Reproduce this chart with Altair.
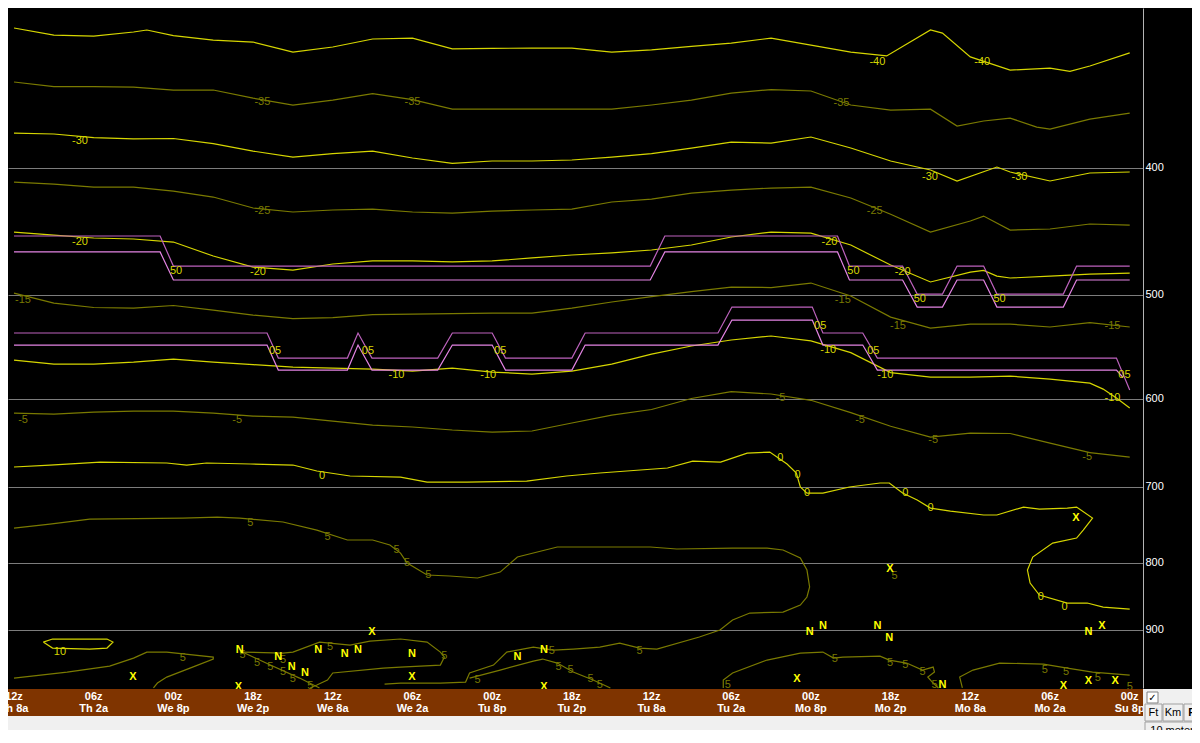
import altair as alt
import pandas as pd

# ---------------- axes ----------------
HOURS = [0, 6, 12, 18, 24, 30, 36, 42, 48, 54, 60, 66, 72, 78, 84]
Z_LABELS = ["12z", "06z", "00z", "18z", "12z", "06z", "00z", "18z", "12z", "06z", "00z", "18z", "12z", "06z", "00z"]
LOCAL_LABELS = ["Th 8a", "Th 2a", "We 8p", "We 2p", "We 8a", "We 2a", "Tu 8p", "Tu 2p",
                "Tu 8a", "Tu 2a", "Mo 8p", "Mo 2p", "Mo 8a", "Mo 2a", "Su 8p"]
PRESSURE_TICKS = [400, 500, 600, 700, 800, 900]

G3 = [0, 3, 6, 9, 12, 15, 18, 21, 24, 27, 30, 33, 36, 39, 42, 45, 48, 51, 54, 57, 60, 63, 66, 69, 72, 75, 78, 81, 84]

# ---------------- isotherms (hours, hPa) ----------------
T_M40_H = [0, 3, 6, 9, 10, 12, 15, 18, 21, 24, 27, 30, 33, 36, 39, 42, 45, 48, 51, 54, 57, 60, 63, 65.7, 69, 69.9, 72, 75, 78, 79.5, 81, 84]
T_M40_P = [313.0, 316.9, 317.5, 315.2, 314.1, 317.2, 319.7, 320.8, 326.5, 323.6, 319.1, 318.6, 324.7, 324.4, 324.2,
           324.2, 326.5, 325.3, 323.3, 321.4, 318.6, 322.5, 326.5, 328.7, 314.1, 315.8, 329.3, 337.0, 335.8, 337.7, 334.6, 327.0]

T_M35_H = [0, 3, 6, 9, 12, 15, 18, 21, 24, 27, 30, 33, 36, 39, 42, 45, 48, 51, 54, 57, 60, 63, 66, 69, 71, 73, 75, 77, 78, 81, 84]
T_M35_P = [344.1, 346.9, 346.9, 347.2, 349.0, 349.0, 354.0, 358.3, 355.2, 351.2, 354.9, 360.9, 360.9, 360.9, 360.9,
           360.9, 358.3, 355.2, 350.9, 348.7, 349.6, 358.3, 361.5, 360.9, 371.8, 368.5, 366.6, 372.5, 373.8, 367.3, 363.4]

T_M30_H = [0, 3, 6, 9, 12, 15, 18, 21, 24, 27, 30, 33, 36, 39, 42, 45, 48, 51, 54, 57, 60, 63, 66, 69, 71, 74, 75, 78, 81, 84]
T_M30_P = [376.4, 377.0, 379.4, 380.3, 380.0, 383.4, 388.5, 392.6, 390.2, 388.5, 393.2, 397.0, 395.3, 395.3, 394.6,
           392.6, 390.2, 386.4, 382.4, 383.1, 379.0, 386.4, 395.3, 401.6, 409.4, 399.5, 403.0, 409.4, 403.7, 403.0]

T_M25_H = [0, 3, 6, 9, 12, 15, 18, 21, 24, 27, 30, 33, 36, 39, 42, 45, 48, 51, 54, 57, 60, 63, 66, 69, 72, 73, 75, 78, 81, 84]
T_M25_P = [410.2, 411.6, 413.8, 413.8, 416.7, 421.1, 429.3, 432.3, 430.8, 430.1, 432.3, 433.1, 431.6, 430.8, 430.1,
           424.8, 422.6, 418.2, 416.0, 414.5, 413.8, 421.8, 434.0, 447.8, 439.2, 435.4, 446.2, 445.4, 441.5, 442.3]

T_M20_H = [0, 3, 6, 9, 12, 15, 18, 21, 24, 27, 30, 33, 36, 39, 42, 45, 48, 51, 54, 57, 60, 63, 66, 69, 72, 73, 74, 75, 78, 81, 84]
T_M20_P = [447.8, 450.2, 452.5, 453.3, 455.7, 467.0, 476.2, 478.7, 473.6, 471.1, 471.1, 471.9, 471.1, 468.6, 466.2,
           464.5, 462.1, 458.1, 451.7, 447.8, 448.6, 458.1, 474.5, 488.8, 480.4, 479.0, 483.8, 485.4, 483.8, 482.1, 481.2]

T_M15_H = G3
T_M15_P = [498.4, 507.2, 511.2, 511.7, 509.4, 513.5, 518.0, 521.2, 520.3, 517.6, 517.1, 516.7, 516.2, 516.2, 511.7,
           506.3, 501.5, 497.1, 493.2, 493.6, 489.7, 501.0, 519.9, 530.0, 526.3, 526.3, 529.0, 524.9, 529.0]

T_M10_H = [0, 3, 6, 9, 12, 15, 18, 21, 24, 27, 30, 33, 36, 39, 42, 45, 48, 51, 54, 57, 60, 63, 66, 69, 72, 75, 78, 81, 82, 83, 84]
T_M10_P = [560.6, 564.6, 564.6, 562.6, 559.6, 562.6, 565.1, 567.5, 568.5, 569.5, 571.5, 568.5, 572.5, 574.5, 571.5,
           564.6, 554.7, 546.9, 541.2, 537.4, 542.1, 553.3, 573.1, 577.6, 577.6, 576.6, 579.6, 583.7, 589.9, 599.2, 609.9]

T_M5_H = G3
T_M5_P = [615.2, 616.3, 614.2, 613.1, 613.1, 615.2, 618.5, 619.6, 623.9, 628.3, 630.5, 633.8, 636.1, 634.9, 626.1,
          617.4, 611.4, 599.7, 592.6, 595.0, 601.6, 614.8, 629.6, 641.7, 637.2, 637.7, 648.5, 659.4, 664.6]

T_0_H = [0, 2.7, 6.5, 11.5, 13.0, 14.5, 17.8, 21.0, 22.8, 25.3, 29.1, 31.1, 34.1, 38.6, 41.6, 44.1, 49.2, 51.1, 53.2, 55.2,
         56.9, 58.2, 58.9, 59.2, 59.7, 60.9, 62.9, 65.2, 65.9, 66.9, 68.0, 69.0, 70.5, 73.0, 74.0, 76.0, 77.2, 79.3, 80.0, 81.2,
         80.5, 80.0, 78.2, 76.7, 76.3, 76.5, 77.2, 79.3, 80.8, 82.0, 84.0]
T_0_P = [676.3, 674.0, 670.5, 671.6, 674.0, 671.6, 672.8, 674.0, 681.1, 687.1, 688.4, 694.4, 694.4, 693.2, 687.1, 683.5,
         677.5, 669.3, 670.5, 660.0, 658.8, 672.8, 683.5, 700.5, 708.0, 708.0, 700.5, 695.6, 695.6, 708.0, 716.7, 726.9,
         730.7, 735.8, 735.8, 725.6, 728.1, 726.9, 725.6, 739.7, 755.5, 766.1, 772.9, 792.1, 810.4, 829.1, 846.7, 858.7,
         858.7, 864.8, 867.8]

T_5A_H = [0.0, 2.7, 5.7, 12.7, 15.3, 17.0, 20.25, 22.8, 25.1, 27.0, 28.3, 29.1, 29.6, 31.1, 32.8, 34.9, 36.6, 37.9, 40.9,
          45.4, 47.9, 49.9, 54.1, 56.7, 57.9, 59.2, 59.7, 59.9, 59.7, 59.2, 57.9, 55.4, 54.1, 53.15, 51.6, 48.4, 47.1,
          45.6, 44.1, 42.1, 40.6, 39.1, 37.1, 36.1, 34.3, 34.0, 32.1, 29.1, 27.9]
T_5A_P = [752.9, 747.6, 741.0, 739.7, 738.4, 739.7, 744.9, 755.5, 768.8, 768.8, 775.6, 786.6, 800.5, 817.5, 818.9, 821.8,
          813.3, 792.1, 778.3, 778.3, 778.3, 781.0, 779.7, 779.7, 782.4, 793.5, 810.4, 834.9, 849.7, 861.7, 872.4, 873.9,
          884.7, 900.4, 911.5, 930.9, 929.3, 921.2, 927.7, 930.9, 932.6, 927.7, 935.9, 957.5, 970.9, 986.5, 988.2, 988.2, 989.9]

T_10_H = [2.2, 2.9, 7.0, 7.45, 7.0, 5.7, 2.9, 2.2]
T_10_P = [919.6, 914.7, 914.7, 919.6, 929.3, 930.9, 929.3, 919.6]

T_5B_H = [0.0, 4.0, 7.2, 9.0, 10.0, 11.5, 15.0, 15.0, 13.25, 11.5, 10.8, 10.5]
T_5B_P = [979.6, 969.3, 959.2, 945.8, 935.9, 935.9, 944.2, 947.4, 962.6, 977.9, 988.2, 996.7]

T_5C_H = [17.0, 20.25, 21.0, 23.0, 25.3, 26.8, 29.1, 31.1, 32.1, 32.4, 32.1, 29.1, 27.8, 24.0, 23.6, 22.8, 22.3]
T_5C_P = [935.9, 937.5, 935.9, 919.6, 924.4, 918.0, 914.7, 919.6, 935.9, 944.2, 957.5, 960.9, 962.6, 970.9, 983.0, 991.7, 996.7]

T_5D_H = [17.2, 19.3, 21.5, 23.0]
T_5D_P = [935.9, 957.5, 979.6, 996.7]

T_5E_H = [34.3, 36.6, 39.1, 39.8, 40.9, 42.1, 43.6, 44.9]
T_5E_P = [979.6, 965.9, 950.8, 947.4, 954.1, 969.3, 983.0, 996.7]

T_5F_H = [53.4, 53.4, 54.1, 56.7, 59.2, 60.9, 61.7, 62.4, 65.2, 65.9, 67.2, 68.4, 69.2, 69.3, 68.8, 69.0, 69.2, 69.6]
T_5F_P = [996.7, 983.0, 970.9, 949.1, 937.5, 935.9, 945.8, 944.2, 942.5, 949.1, 954.1, 965.9, 960.9, 969.3, 977.9, 983.0, 988.2, 996.7]

T_5G_H = [71.4, 71.2, 72.2, 74.2, 77.5, 79.3, 81.2, 84.0]
T_5G_P = [996.7, 977.9, 965.9, 954.1, 955.8, 962.6, 969.3, 974.5]

# ---------------- magenta contours ----------------
M50_H = [0, 11.0, 12.0, 47.9, 49.0, 62.0, 62.9, 66.9, 68.0, 69.9, 71.0, 73.0, 74.0, 79.0, 80.0, 84.0]
M50A_P = [450.9, 450.9, 475.3, 475.3, 450.9, 450.9, 475.3, 475.3, 499.3, 499.3, 475.3, 475.3, 499.3, 499.3, 475.3, 475.3]
M50B_P = [463.7, 463.7, 487.1, 487.1, 463.7, 463.7, 487.1, 487.1, 510.8, 510.8, 487.1, 487.1, 510.8, 510.8, 487.1, 487.1]
M05A_H = [0, 19.05, 19.9, 25.1, 25.9, 26.95, 31.9, 33.0, 36.0, 37.0, 42.0, 43.0, 53.0, 54.05, 60.1, 60.9, 63.9, 65.0, 83.0, 84.0]
M05A_P = [534.6, 534.6, 558.6, 558.6, 534.6, 558.6, 558.6, 534.6, 534.6, 558.6, 558.6, 534.6, 534.6, 510.8, 510.8,
          534.6, 534.6, 558.6, 558.6, 590.9]
M05B_H = [0, 19.05, 19.9, 25.1, 25.9, 26.95, 31.9, 33.0, 36.0, 37.0, 42.0, 43.0, 53.0, 54.05, 60.1, 60.9, 63.9, 65.0, 83.0, 83.5]
M05B_P = [546.0, 546.0, 570.5, 570.5, 546.0, 570.5, 570.5, 546.0, 546.0, 570.5, 570.5, 546.0, 546.0, 522.6, 522.6,
          546.0, 546.0, 570.5, 570.5, 578.0]

# ---------------- contour labels ----------------
BRIGHT_TXT = ["-40", "-40", "-30", "-30", "-30", "-20", "-20", "-20", "-20", "-10", "-10", "-10", "-10", "-10",
              "0", "0", "0", "0", "0", "0", "0", "0", "10"]
BRIGHT_H = [65.0, 72.9, 4.97, 68.96, 75.7, 4.97, 18.37, 61.4, 66.9, 28.8, 35.7, 61.3, 65.6, 82.7,
            23.2, 57.7, 59.0, 59.7, 67.1, 69.0, 77.3, 79.1, 3.46]
BRIGHT_P = [332.3, 332.3, 381.7, 406.6, 406.6, 455.7, 480.4, 455.7, 480.4, 575.5, 575.5, 550.8, 575.5, 599.2,
            687.1, 665.8, 685.9, 708.0, 708.0, 726.9, 849.7, 864.8, 935.9]

DIM_TXT = ["-35", "-35", "-35", "-25", "-25", "-15", "-15", "-15", "-15", "-5", "-5", "-5", "-5", "-5", "-5"] + ["5"] * 33
DIM_H = [18.7, 30.0, 62.3, 18.7, 64.8, 0.68, 62.4, 66.55, 82.7, 0.68, 16.8, 57.7, 63.7, 69.2, 80.8,
         17.8, 23.6, 28.8, 29.6, 31.2, 66.3, 12.7, 17.2, 18.3, 19.3, 20.25, 21.0, 22.3, 20.25, 23.8, 32.4, 34.9,
         40.5, 41.0, 41.9, 43.4, 44.1, 47.1, 53.75, 61.8, 65.95, 67.1, 68.4, 69.3, 77.6, 79.2, 81.6, 84.0]
DIM_P = [356.4, 356.4, 357.1, 431.6, 431.6, 504.5, 504.5, 528.1, 528.1, 622.8, 622.8, 599.2, 622.8, 645.1, 664.6,
         746.3, 764.8, 782.4, 800.5, 817.5, 818.9, 945.8, 940.8, 954.1, 960.9, 969.3, 981.3, 993.4, 949.1, 927.7, 942.5,
         983.0, 934.2, 960.9, 965.9, 981.3, 991.7, 934.2, 991.7, 947.4, 954.1, 957.5, 969.3, 991.7, 965.9, 969.3,
         979.6, 995.2]

MAG_TXT = ["50", "50", "50", "50", "05", "05", "05", "05", "05", "05"]
MAG_H = [12.2, 63.2, 68.2, 74.2, 19.65, 26.65, 36.6, 60.7, 64.7, 83.6]
MAG_P = [479.5, 479.5, 503.6, 503.6, 551.8, 551.8, 551.8, 528.1, 551.8, 575.5]

N_H = [17.0, 19.9, 20.9, 21.9, 22.9, 24.9, 25.9, 29.96, 37.9, 39.9, 59.9, 60.9, 65.0, 65.9, 80.9, 69.9]
N_P = [932.6, 944.2, 960.9, 970.9, 932.6, 939.2, 932.6, 939.2, 944.2, 932.6, 903.6, 894.1, 894.1, 913.1, 903.6, 991.7]
X_H = [8.96, 16.9, 26.95, 29.96, 39.9, 58.95, 65.95, 79.95, 81.9, 79.0, 80.9, 82.9]
X_P = [977.9, 995.2, 903.6, 977.9, 995.2, 981.3, 809.0, 739.7, 894.1, 993.4, 984.7, 984.7]

# ---------------- build tables ----------------
rows = []


def add(name, kind, hs, ps):
    for i, (h, p) in enumerate(zip(hs, ps)):
        rows.append({"line": name, "seq": i, "h": h, "p": p, "kind": kind})


add("m40", "bright", T_M40_H, T_M40_P)
add("m35", "dim", T_M35_H, T_M35_P)
add("m30", "bright", T_M30_H, T_M30_P)
add("m25", "dim", T_M25_H, T_M25_P)
add("m20", "bright", T_M20_H, T_M20_P)
add("m15", "dim", T_M15_H, T_M15_P)
add("m10", "bright", T_M10_H, T_M10_P)
add("m5", "dim", T_M5_H, T_M5_P)
add("z0", "bright", T_0_H, T_0_P)
add("p5a", "dim", T_5A_H, T_5A_P)
add("p10", "bright", T_10_H, T_10_P)
add("p5b", "dim", T_5B_H, T_5B_P)
add("p5c", "dim", T_5C_H, T_5C_P)
add("p5d", "dim", T_5D_H, T_5D_P)
add("p5e", "dim", T_5E_H, T_5E_P)
add("p5f", "dim", T_5F_H, T_5F_P)
add("p5g", "dim", T_5G_H, T_5G_P)
add("m50a", "magA", M50_H, M50A_P)
add("m50b", "magB", M50_H, M50B_P)
add("m05a", "magA", M05A_H, M05A_P)
add("m05b", "magB", M05B_H, M05B_P)
lines_df = pd.DataFrame(rows)

lab_rows = []
for t, h, p in zip(BRIGHT_TXT, BRIGHT_H, BRIGHT_P):
    lab_rows.append({"t": t, "h": h, "p": p, "kind": "bright"})
for t, h, p in zip(DIM_TXT, DIM_H, DIM_P):
    lab_rows.append({"t": t, "h": h, "p": p, "kind": "dim"})
for t, h, p in zip(MAG_TXT, MAG_H, MAG_P):
    lab_rows.append({"t": t, "h": h, "p": p, "kind": "mag"})
labels_df = pd.DataFrame(lab_rows)

mk_rows = [{"t": "N", "h": h, "p": p} for h, p in zip(N_H, N_P)] + \
          [{"t": "X", "h": h, "p": p} for h, p in zip(X_H, X_P)]
markers_df = pd.DataFrame(mk_rows)

xlab_df = pd.DataFrame({"h": HOURS, "z": Z_LABELS, "loc": LOCAL_LABELS})
one = pd.DataFrame({"k": [0]})

# ---------------- encodings ----------------
xs = alt.Scale(domain=[-0.452, 85.0], nice=False, zero=False)
ys = alt.Scale(type="log", domain=[302.2, 996.8], reverse=True, nice=False)
X = alt.X("h:Q", scale=xs, axis=None)
y_axis = alt.Axis(orient="right", values=PRESSURE_TICKS, grid=True, gridColor="#7c7c7c", gridWidth=1,
                  ticks=False, domain=True, domainColor="#b4b4b4", domainWidth=1,
                  labelColor="#ffffff", labelFont="Liberation Sans", labelFontSize=11, labelPadding=2,
                  labelAlign="left", labelBaseline="middle", labelFlush=False, labelOverlap=False, title=None)
Y = alt.Y("p:Q", scale=ys, axis=y_axis)

lines_layer = alt.Chart(lines_df).mark_line(strokeWidth=1.2).encode(
    x=X,
    y=Y,
    detail="line:N",
    order="seq:Q",
    color=alt.Color("kind:N", legend=None,
                    scale=alt.Scale(domain=["bright", "dim", "magA", "magB"],
                                    range=["#d6d600", "#7a7a00", "#bd62bd", "#e484e4"])),
)

labels_layer = alt.Chart(labels_df).mark_text(font="Liberation Sans", fontSize=11).encode(
    x=X, y=Y, text="t:N",
    color=alt.Color("kind:N", legend=None,
                    scale=alt.Scale(domain=["bright", "dim", "mag"], range=["#ffff00", "#8c8c00", "#ff88ff"])),
)

markers_layer = alt.Chart(markers_df).mark_text(font="Liberation Sans", fontSize=11, fontWeight="bold",
                                                color="#ffff00").encode(x=X, y=Y, text="t:N")

band = alt.Chart(one).mark_rect(color="#7f3400").encode(
    x=alt.value(0), x2=alt.value(1135), y=alt.value(681), y2=alt.value(708))
floor = alt.Chart(one).mark_rect(color="#f0f0f0").encode(
    x=alt.value(0), x2=alt.value(1184), y=alt.value(708), y2=alt.value(722))

xl_top = alt.Chart(xlab_df).mark_text(font="Liberation Sans", fontSize=11, fontWeight="bold",
                                      color="#ffffff").encode(x=X, y=alt.value(689), text="z:N")
xl_bot = alt.Chart(xlab_df).mark_text(font="Liberation Sans", fontSize=11, fontWeight="bold",
                                      color="#ffffff").encode(x=X, y=alt.value(701), text="loc:N")

panel = alt.Chart(one).mark_rect(color="#f0f0f0").encode(
    x=alt.value(1135), x2=alt.value(1184), y=alt.value(681), y2=alt.value(722))
checkbox = alt.Chart(one).mark_rect(fill="#ffffff", stroke="#808080", strokeWidth=1).encode(
    x=alt.value(1139), x2=alt.value(1150), y=alt.value(684), y2=alt.value(695))
check = alt.Chart(one).mark_text(text="\u2713", font="DejaVu Sans", fontSize=10, color="#000000").encode(
    x=alt.value(1144.5), y=alt.value(689.5))
btn_ft = alt.Chart(one).mark_rect(fill="#f0f0f0", stroke="#a0a0a0", strokeWidth=1).encode(
    x=alt.value(1137), x2=alt.value(1154), y=alt.value(696), y2=alt.value(713))
btn_km = alt.Chart(one).mark_rect(fill="#f0f0f0", stroke="#a0a0a0", strokeWidth=1).encode(
    x=alt.value(1155), x2=alt.value(1175), y=alt.value(696), y2=alt.value(713))
btn_p = alt.Chart(one).mark_rect(fill="#f0f0f0", stroke="#a0a0a0", strokeWidth=1).encode(
    x=alt.value(1176), x2=alt.value(1192), y=alt.value(696), y2=alt.value(713))
btn_m = alt.Chart(one).mark_rect(fill="#f0f0f0", stroke="#a0a0a0", strokeWidth=1).encode(
    x=alt.value(1137), x2=alt.value(1192), y=alt.value(714), y2=alt.value(731))
t_ft = alt.Chart(one).mark_text(text="Ft", font="Liberation Sans", fontSize=11, color="#000000").encode(
    x=alt.value(1145.5), y=alt.value(704.5))
t_km = alt.Chart(one).mark_text(text="Km", font="Liberation Sans", fontSize=11, color="#000000").encode(
    x=alt.value(1165), y=alt.value(704.5))
t_p = alt.Chart(one).mark_text(text="P", font="Liberation Sans", fontSize=11, fontWeight="bold",
                               color="#000000").encode(x=alt.value(1184), y=alt.value(704.5))
t_m = alt.Chart(one).mark_text(text="10 meter", font="Liberation Sans", fontSize=11, color="#000000").encode(
    x=alt.value(1164), y=alt.value(722.5))

chart = alt.layer(
    lines_layer, labels_layer, markers_layer, band, floor, xl_top, xl_bot,
    panel, checkbox, check, btn_ft, btn_km, btn_p, btn_m, t_ft, t_km, t_p, t_m,
).properties(
    width=1135, height=680, background="#000000",
    padding={"left": 0, "top": 0, "right": 49, "bottom": 42},
    autosize=alt.AutoSizeParams(type="none"),
).configure_view(strokeWidth=0)

chart.save("out.html", embed_options={"renderer": "svg", "actions": False})
